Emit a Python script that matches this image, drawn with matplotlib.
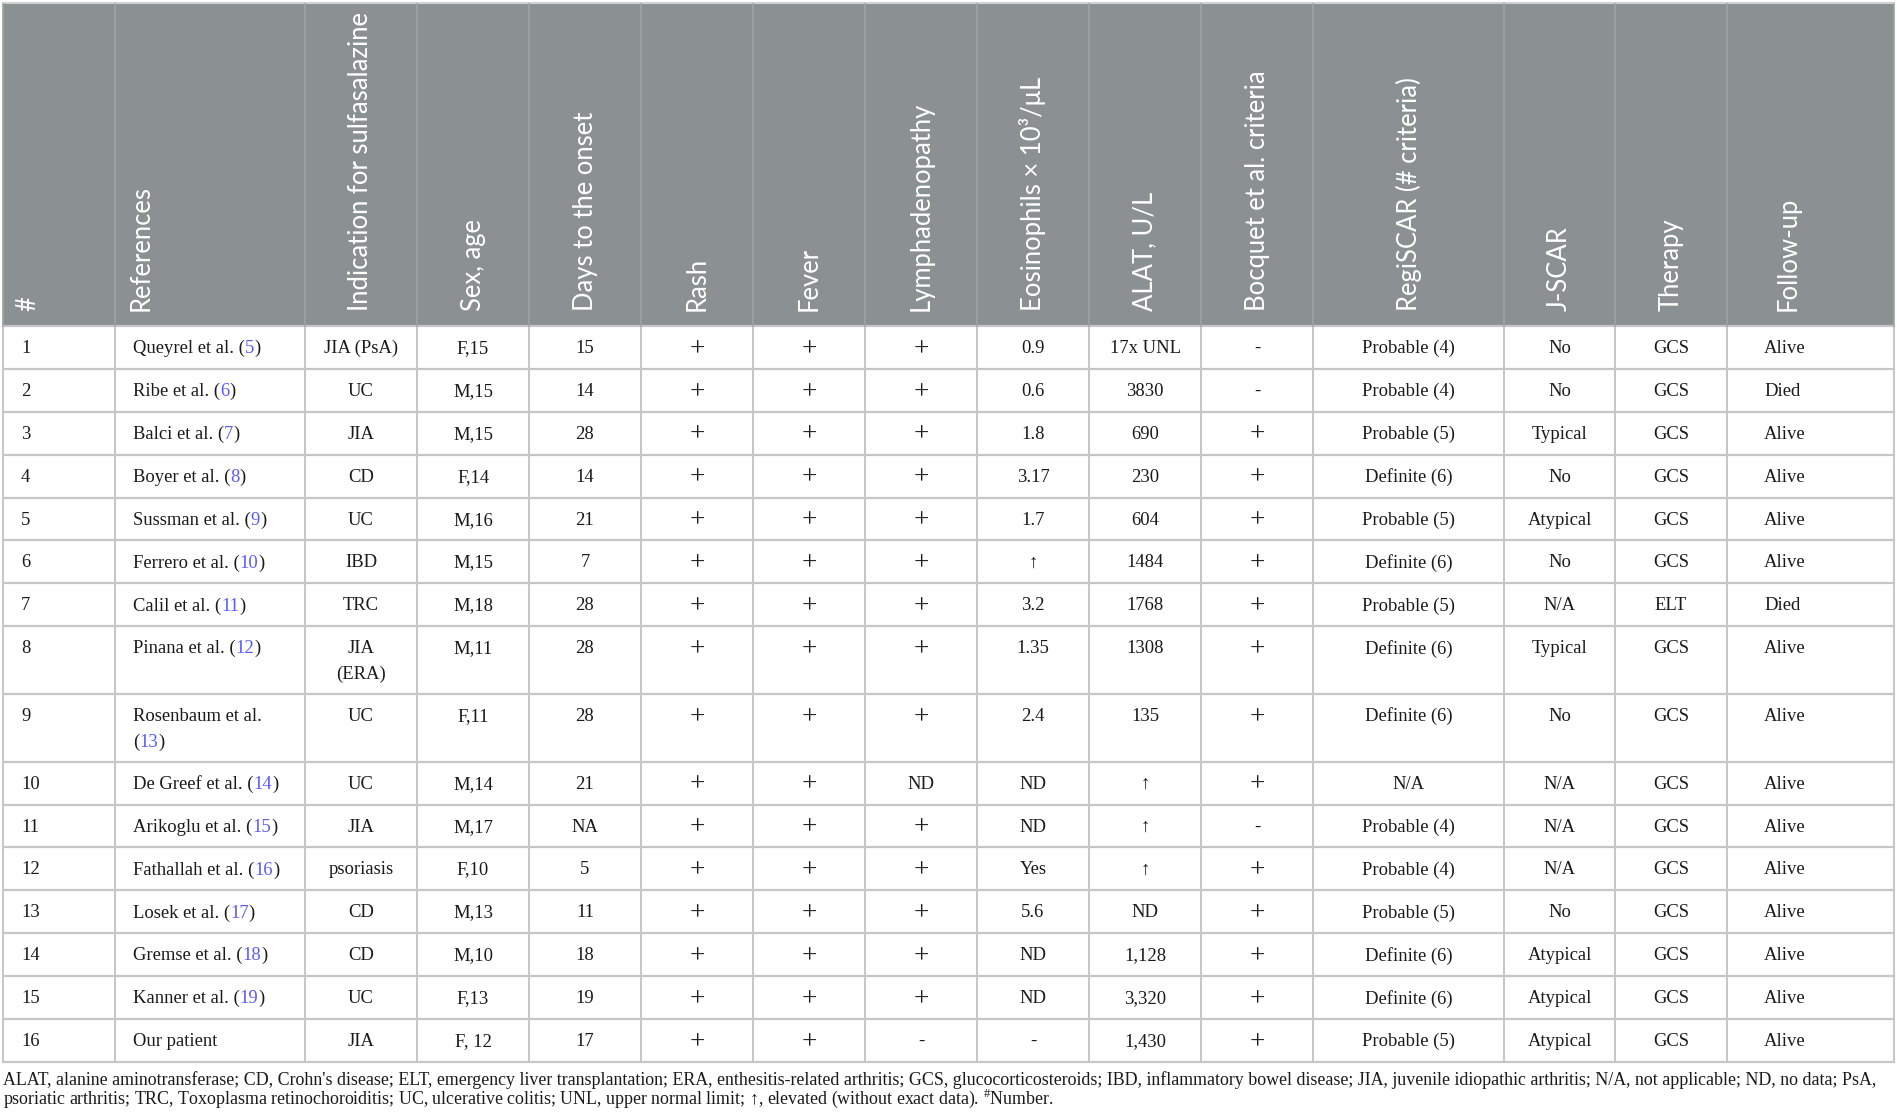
import re
import matplotlib
matplotlib.use("Agg")
import matplotlib.pyplot as plt
from matplotlib.patches import Rectangle

W, H = 1897, 1117

headers = ["#", "References", "Indication for sulfasalazine", "Sex, age",
           "Days to the onset", "Rash", "Fever", "Lymphadenopathy",
           "Eosinophils × 10³/μL", "ALAT, U/L", "Bocquet et al. criteria",
           "RegiSCAR (# criteria)", "J-SCAR", "Therapy", "Follow-up"]

case_no = ["1", "2", "3", "4", "5", "6", "7", "8", "9", "10", "11", "12", "13", "14", "15", "16"]
references = ["Queyrel et al. (5)", "Ribe et al. (6)", "Balci et al. (7)", "Boyer et al. (8)",
              "Sussman et al. (9)", "Ferrero et al. (10)", "Calil et al. (11)", "Pinana et al. (12)",
              "Rosenbaum et al.\n(13)", "De Greef et al. (14)", "Arikoglu et al. (15)",
              "Fathallah et al. (16)", "Losek et al. (17)", "Gremse et al. (18)",
              "Kanner et al. (19)", "Our patient"]
indication = ["JIA (PsA)", "UC", "JIA", "CD", "UC", "IBD", "TRC", "JIA\n(ERA)", "UC", "UC",
              "JIA", "psoriasis", "CD", "CD", "UC", "JIA"]
sex_age = ["F,15", "M,15", "M,15", "F,14", "M,16", "M,15", "M,18", "M,11", "F,11", "M,14",
           "M,17", "F,10", "M,13", "M,10", "F,13", "F, 12"]
days_onset = ["15", "14", "28", "14", "21", "7", "28", "28", "28", "21", "NA", "5", "11", "18", "19", "17"]
rash = ["+"] * 16
fever = ["+"] * 16
lymph = ["+", "+", "+", "+", "+", "+", "+", "+", "+", "ND", "+", "+", "+", "+", "+", "-"]
eosinophils = ["0.9", "0.6", "1.8", "3.17", "1.7", "↑", "3.2", "1.35", "2.4", "ND", "ND", "Yes",
               "5.6", "ND", "ND", "-"]
alat = ["17x UNL", "3830", "690", "230", "604", "1484", "1768", "1308", "135", "↑", "↑", "↑",
        "ND", "1,128", "3,320", "1,430"]
bocquet = ["-", "-", "+", "+", "+", "+", "+", "+", "+", "+", "-", "+", "+", "+", "+", "+"]
regiscar = ["Probable (4)", "Probable (4)", "Probable (5)", "Definite (6)", "Probable (5)",
            "Definite (6)", "Probable (5)", "Definite (6)", "Definite (6)", "N/A", "Probable (4)",
            "Probable (4)", "Probable (5)", "Definite (6)", "Definite (6)", "Probable (5)"]
jscar = ["No", "No", "Typical", "No", "Atypical", "No", "N/A", "Typical", "No", "N/A", "N/A",
         "N/A", "No", "Atypical", "Atypical", "Atypical"]
therapy = ["GCS"] * 6 + ["ELT"] + ["GCS"] * 9
follow_up = ["Alive", "Died", "Alive", "Alive", "Alive", "Alive", "Died", "Alive", "Alive",
             "Alive", "Alive", "Alive", "Alive", "Alive", "Alive", "Alive"]

footnote = [
    "ALAT, alanine aminotransferase; CD, Crohn's disease; ELT, emergency liver transplantation; "
    "ERA, enthesitis-related arthritis; GCS, glucocorticosteroids; IBD, inflammatory bowel disease; "
    "JIA, juvenile idiopathic arthritis; N/A, not applicable; ND, no data; PsA,",
    "psoriatic arthritis; TRC, Toxoplasma retinochoroiditis; UC, ulcerative colitis; "
    "UNL, upper normal limit; ↑, elevated (without exact data). $^{\\#}$Number.",
]

columns = [case_no, references, indication, sex_age, days_onset, rash, fever, lymph,
           eosinophils, alat, bocquet, regiscar, jscar, therapy, follow_up]

# layout (pixels)
col_edges = [3, 115, 305, 417, 529, 641, 753, 865, 977, 1089, 1201, 1313, 1504, 1615, 1727, 1894]
align = ["left", "left"] + ["center"] * 12 + ["left"]
body_pad = {0: 18, 1: 18, 14: 37}
head_off = {0: 25, 1: 26, 14: 61}
top, head_bottom = 4, 326
base_h, extra_h = 42.9, 24.8
line_gap = 25.5

HEAD_BG = "#8b9192"
GRID = "#c6c6c6"
LINK = "#5a5aff"
TXT = "#1a1a1a"

plt.rcParams["mathtext.fontset"] = "custom"
plt.rcParams["mathtext.rm"] = "Liberation Serif"
serif = ["Liberation Serif", "DejaVu Serif"]
sans = ["Lato", "DejaVu Sans"]
px = 72 / 100
body_fs = 18.6 * px
head_fs = 25.6 * px
foot_fs = 17.9 * px

fig = plt.figure(figsize=(W / 100, H / 100), dpi=100)
ax = fig.add_axes([0, 0, 1, 1])
ax.set_xlim(0, W)
ax.set_ylim(H, 0)
ax.axis("off")

# header
ax.add_patch(Rectangle((col_edges[0], top), col_edges[-1] - col_edges[0], head_bottom - top,
                       facecolor=HEAD_BG, edgecolor="none"))
ax.plot([col_edges[0], col_edges[-1]], [top - 1.5, top - 1.5], color="#d0d0d0", lw=1.5)
for i, name in enumerate(headers):
    l, r = col_edges[i], col_edges[i + 1]
    x = l + head_off[i] if i in head_off else (l + r) / 2
    ax.text(x, head_bottom - 15, name, rotation=90, ha="center", va="bottom",
            color="white", fontsize=head_fs, family=sans)


def draw_ref(x, y, line):
    parts = re.split(r"(\d+)(?=\))", line) if "(" in line else [line]
    prev = None
    for k, s in enumerate(parts):
        if not s:
            continue
        c = LINK if (k % 2 == 1) else TXT
        if prev is None:
            t = ax.text(x, y, s, ha="left", va="center", color=c, fontsize=body_fs, family=serif)
        else:
            t = ax.annotate(s, xy=(1, 0), xycoords=prev, ha="left", va="bottom",
                            color=c, fontsize=body_fs, family=serif)
        prev = t


# body rows
nlines = [max(str(col[r]).count("\n") + 1 for col in columns) for r in range(len(case_no))]
y = head_bottom
row_tops = []
for r in range(len(case_no)):
    h = base_h + extra_h * (nlines[r] - 1)
    row_tops.append(y)
    for i, col in enumerate(columns):
        l, rr = col_edges[i], col_edges[i + 1]
        for j, line in enumerate(str(col[r]).split("\n")):
            ty = y + 22.5 + line_gap * j
            if i == 1:
                draw_ref(l + body_pad[i], ty, line)
            elif align[i] == "left":
                ax.text(l + body_pad[i], ty, line, ha="left", va="center", color=TXT,
                        fontsize=body_fs, family=serif)
            elif line == "+":
                # the plus sign is drawn larger and lighter, like in the source typeface
                ax.text((l + rr) / 2, ty + 1, line, ha="center", va="center", color=TXT,
                        fontsize=body_fs * 1.45, family=serif, fontweight="light")
            else:
                ax.text((l + rr) / 2, ty, line, ha="center", va="center", color=TXT,
                        fontsize=body_fs, family=serif)
    y += h
bottom = y

# grid
for yy in row_tops[1:] + [bottom]:
    ax.plot([col_edges[0], col_edges[-1]], [yy, yy], color=GRID, lw=1.6)
ax.plot([col_edges[0], col_edges[-1]], [head_bottom, head_bottom], color=GRID, lw=1.6)
for xx in col_edges:
    ax.plot([xx, xx], [head_bottom, bottom], color=GRID, lw=1.4)
    ax.plot([xx, xx], [top, head_bottom], color="#9ea3a4", lw=1.2)

# footnote
for j, line in enumerate(footnote):
    ax.text(col_edges[0], bottom + 18 + 18.5 * j, line, ha="left", va="center", color=TXT,
            fontsize=foot_fs, family=serif)

fig.savefig("out.png", dpi=100)
